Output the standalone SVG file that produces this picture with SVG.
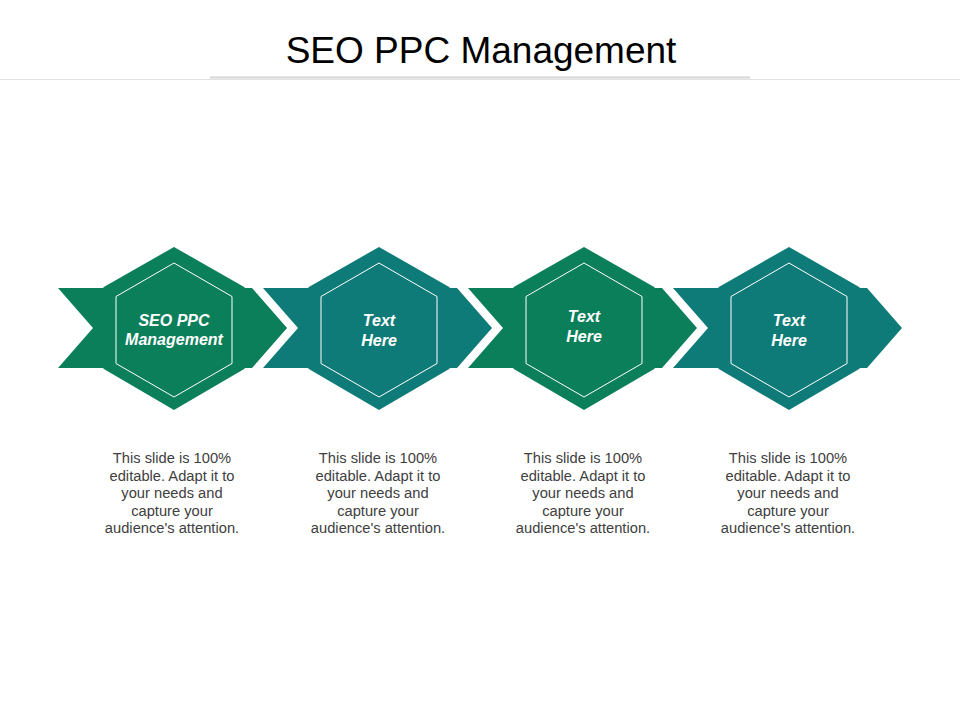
<svg xmlns="http://www.w3.org/2000/svg" width="960" height="720" viewBox="0 0 960 720">
<style>
.green{fill:#0b7e5a}
.teal{fill:#0f7b78}
.inner{fill:none;stroke:#ffffff;stroke-width:1}
.lbl{font-family:"Liberation Sans",Arial,sans-serif;font-size:16px;font-weight:bold;font-style:italic;fill:#ffffff;text-anchor:middle}
.body{font-family:"Liberation Sans",Arial,sans-serif;font-size:14.7px;fill:#404040;text-anchor:middle}
.title{font-family:"Liberation Sans",Arial,sans-serif;font-size:37px;fill:#000000;text-anchor:middle}
</style>
<defs>
<polygon id="band" points="58,288 252,288 287,328 252,368 58,368 93,328"/>
<polygon id="outer" points="174,247 244.6,287.2 244.6,368.8 174,410 103.4,368.8 103.4,287.2"/>
<polygon id="innerHex" points="174,263 232,296.5 232,363.5 174,397 116,363.5 116,296.5"/>
</defs>
<rect width="960" height="720" fill="#ffffff"/>
<g id="title">
<text class="title" x="481" y="63">SEO PPC Management</text>
<line x1="0" y1="79.5" x2="960" y2="79.5" stroke="#e2e2e2" stroke-width="1"/>
<line x1="210" y1="77.5" x2="750" y2="77.5" stroke="#d6d6d6" stroke-width="2"/>
</g>
<g id="connectors"></g>
<g id="node1">
<use href="#band" class="green"/>
<use href="#outer" class="green"/>
<use href="#innerHex" class="inner"/>
<text class="lbl" x="174" y="326">SEO PPC</text>
<text class="lbl" x="174" y="345">Management</text>
</g>
<g id="node2" transform="translate(205,0)">
<use href="#band" class="teal"/>
<use href="#outer" class="teal"/>
<use href="#innerHex" class="inner"/>
<text class="lbl" x="174" y="326">Text</text>
<text class="lbl" x="174" y="346">Here</text>
</g>
<g id="node3" transform="translate(410,0)">
<use href="#band" class="green"/>
<use href="#outer" class="green"/>
<use href="#innerHex" class="inner"/>
<text class="lbl" x="174" y="322">Text</text>
<text class="lbl" x="174" y="342">Here</text>
</g>
<g id="node4" transform="translate(615,0)">
<use href="#band" class="teal"/>
<use href="#outer" class="teal"/>
<use href="#innerHex" class="inner"/>
<text class="lbl" x="174" y="326">Text</text>
<text class="lbl" x="174" y="346">Here</text>
</g>
<g id="desc1" class="body">
<text x="172" y="463">This slide is 100%</text>
<text x="172" y="481">editable. Adapt it to</text>
<text x="172" y="498">your needs and</text>
<text x="172" y="516">capture your</text>
<text x="172" y="533">audience's attention.</text>
</g>
<g id="desc2" class="body">
<text x="378" y="463">This slide is 100%</text>
<text x="378" y="481">editable. Adapt it to</text>
<text x="378" y="498">your needs and</text>
<text x="378" y="516">capture your</text>
<text x="378" y="533">audience's attention.</text>
</g>
<g id="desc3" class="body">
<text x="583" y="463">This slide is 100%</text>
<text x="583" y="481">editable. Adapt it to</text>
<text x="583" y="498">your needs and</text>
<text x="583" y="516">capture your</text>
<text x="583" y="533">audience's attention.</text>
</g>
<g id="desc4" class="body">
<text x="788" y="463">This slide is 100%</text>
<text x="788" y="481">editable. Adapt it to</text>
<text x="788" y="498">your needs and</text>
<text x="788" y="516">capture your</text>
<text x="788" y="533">audience's attention.</text>
</g>
</svg>
